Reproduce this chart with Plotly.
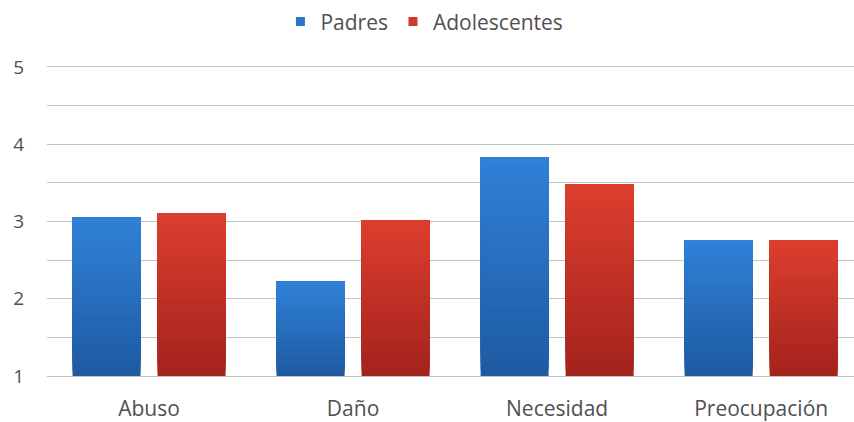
import plotly.graph_objects as go

# ---- data ----
categories = ["Abuso", "Daño", "Necesidad", "Preocupación"]
series_names = ["Padres", "Adolescentes"]
padres = [3.05, 2.22, 3.83, 2.76]
adolescentes = [3.11, 3.02, 3.48, 2.76]
y_tick_values = [1, 2, 3, 4, 5]
y_tick_labels = ["1", "2", "3", "4", "5"]

# ---- styling ----
AXIS_MIN = 1
N_LAYERS = 32
BAR_WIDTH = 1 / 3
styles = {
    "Padres": dict(top=(48, 129, 215), bottom=(30, 90, 162), legend="#2B76C9", offset=-0.375),
    "Adolescentes": dict(top=(220, 62, 46), bottom=(164, 35, 29), legend="#D03A2C", offset=0.0417),
}
FONT = "Open Sans, Lato, sans-serif"
TEXT_COLOR = "#505050"
GRID = "#c4c4c4"


def mix(c1, c2, t):
    return "rgb({},{},{})".format(*[round(a + (b - a) * t) for a, b in zip(c1, c2)])


fig = go.Figure()
x_idx = list(range(len(categories)))
for name, values in zip(series_names, [padres, adolescentes]):
    st = styles[name]
    for i in range(N_LAYERS):
        frac = i / N_LAYERS
        bases = [AXIS_MIN + (v - AXIS_MIN) * frac for v in values]
        heights = [(v - AXIS_MIN) * (1 - frac) for v in values]
        t = i / (N_LAYERS - 1)
        fig.add_trace(go.Bar(
            x=x_idx, y=heights, base=bases,
            width=BAR_WIDTH, offset=st["offset"],
            marker=dict(color=mix(st["bottom"], st["top"], t), line=dict(width=0)),
            name=name, legendgroup=name, showlegend=False, hoverinfo="skip",
        ))
    # legend entry: small square marker carrying the series colour
    fig.add_trace(go.Scatter(
        x=[None], y=[None], mode="markers", name=name, legendgroup=name,
        marker=dict(symbol="square", size=9, color=st["legend"]), showlegend=True,
    ))

fig.update_layout(
    width=854, height=422,
    margin=dict(l=47, r=0, t=67, b=43),
    paper_bgcolor="white", plot_bgcolor="white",
    barmode="overlay",
    font=dict(family=FONT, color=TEXT_COLOR),
    legend=dict(
        orientation="h", xref="container", x=0.497, xanchor="center",
        yref="container", y=0.948, yanchor="middle",
        font=dict(size=21, color=TEXT_COLOR, family=FONT),
        itemwidth=30, tracegroupgap=0, bgcolor="rgba(0,0,0,0)",
    ),
    xaxis=dict(
        range=[-0.5, 3.455],
        tickmode="array", tickvals=x_idx, ticktext=categories,
        showgrid=False, zeroline=False,
        showline=True, linecolor=GRID, linewidth=1.4, mirror=True,
        ticks="",
        tickfont=dict(size=21, color=TEXT_COLOR, family=FONT),
        ticklabelstandoff=14,
        fixedrange=True,
    ),
    yaxis=dict(
        range=[1, 5],
        tickmode="array", tickvals=y_tick_values, ticktext=y_tick_labels,
        showgrid=True, gridcolor=GRID, gridwidth=1.4,
        minor=dict(dtick=0.5, showgrid=True, gridcolor=GRID, gridwidth=1.4, tick0=1),
        zeroline=False, showline=False, ticks="",
        tickfont=dict(size=19, color=TEXT_COLOR, family=FONT),
        ticklabelstandoff=22,
        fixedrange=True,
    ),
)

fig.write_html("out.html")
